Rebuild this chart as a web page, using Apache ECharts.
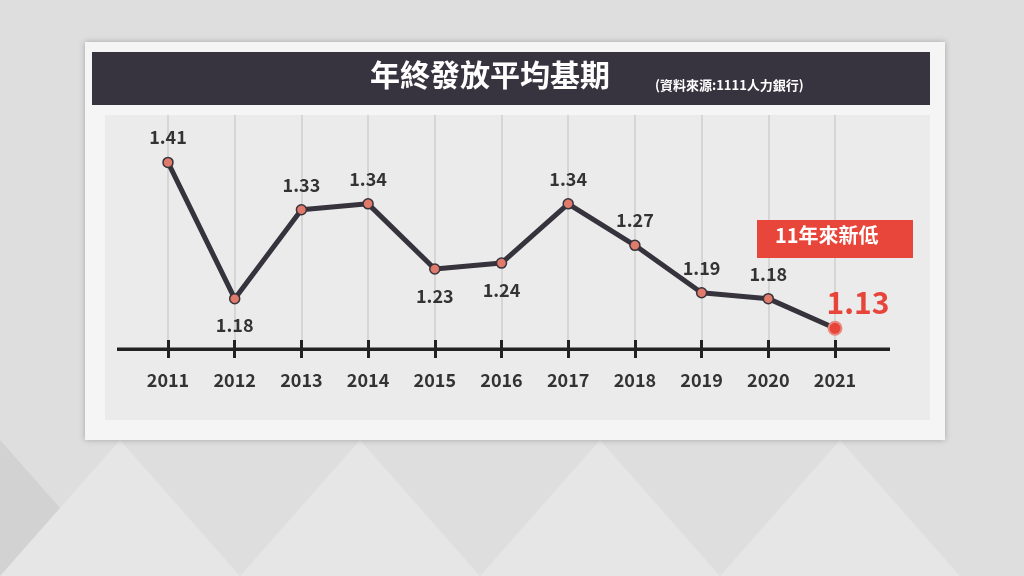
<!DOCTYPE html>
<html><head><meta charset="utf-8">
<script src="https://cdn.jsdelivr.net/npm/echarts@6/dist/echarts.min.js"></script>
<style>html,body{margin:0;padding:0;background:#dcdcdc}#c{width:1024px;height:576px}</style>
</head><body><div id="c"></div>
<script>
const years = ['2011','2012','2013','2014','2015','2016','2017','2018','2019','2020','2021'];
const values = [1.41,1.18,1.33,1.34,1.23,1.24,1.34,1.27,1.19,1.18,1.13];
const labelBelow = ['2012','2015','2016'];
const titleText = '年終發放平均基期';
const sourceText = '(資料來源:1111人力銀行)';
const badgeText = '11年來新低';

const font = '"Noto Sans CJK TC","Noto Sans",sans-serif';
const chart = echarts.init(document.getElementById('c'));
const last = values.length - 1;
const data = values.map((v,i)=>{
  const d = {value:v};
  if (i === last) {
    d.symbolSize = 13;
    d.itemStyle = {color:'#e8453a', borderColor:'#e88a80', borderWidth:2};
    d.label = {position:'right', offset:[-26,-26], fontSize:30, color:'#e8453a', fontWeight:'bold'};
  } else if (labelBelow.includes(years[i])) {
    d.label = {position:'bottom', distance:12};
  }
  return d;
});
chart.setOption({
  backgroundColor:'#dedede',
  graphic:[
    {type:'polygon',shape:{points:[[0,440],[120,576],[0,576]]},style:{fill:'#d2d2d2'}},
    {type:'polygon',shape:{points:[[120,440],[240,576],[0,576]]},style:{fill:'#e6e6e6'}},
    {type:'polygon',shape:{points:[[360,440],[480,576],[240,576]]},style:{fill:'#e6e6e6'}},
    {type:'polygon',shape:{points:[[600,440],[720,576],[480,576]]},style:{fill:'#e6e6e6'}},
    {type:'polygon',shape:{points:[[840,440],[960,576],[720,576]]},style:{fill:'#e6e6e6'}},
    {type:'rect',shape:{x:85,y:42,width:860,height:398},style:{fill:'#f5f5f5',shadowBlur:6,shadowColor:'rgba(0,0,0,0.25)'}},
    {type:'rect',shape:{x:92,y:52,width:838,height:53},style:{fill:'#38343f'}},
    {type:'text',left:370,top:60,style:{text:titleText,fill:'#fff',font:'bold 30px '+font}},
    {type:'text',left:655,top:79,style:{text:sourceText,fill:'#fff',font:'bold 13px '+font}},
    {type:'rect',shape:{x:105,y:115,width:825,height:305},style:{fill:'#ebebeb'}},
    {type:'rect',z:5,shape:{x:117,y:347.5,width:773,height:3.5},style:{fill:'#222'}},
    {type:'rect',z:5,shape:{x:757,y:220,width:156,height:38},style:{fill:'#e8463a'}},
    {type:'text',z:6,left:'center',x:835,left:775,top:225,style:{text:badgeText,fill:'#fff',font:'bold 20px '+font}}
  ],
  grid:{left:168,top:115,width:667,height:234},
  xAxis:[{type:'category',data:years,boundaryGap:false,
    axisLine:{show:false},
    axisTick:{show:true,length:9,lineStyle:{color:'#222',width:3}},
    axisLabel:{margin:22,fontSize:18,fontWeight:'bold',color:'#333',fontFamily:font},
    splitLine:{show:true,lineStyle:{color:'#d6d6d6',width:2}}},
   {type:'category',data:years,position:'bottom',boundaryGap:false,
    axisLine:{show:false},axisLabel:{show:false},
    axisTick:{show:true,inside:true,length:9,lineStyle:{color:'#222',width:3}}}],
  yAxis:{type:'value',min:1.095,max:1.49,show:false,splitLine:{show:false}},
  series:[{type:'line',data:data,symbol:'circle',symbolSize:10,
    lineStyle:{color:'#36333d',width:5},
    itemStyle:{color:'#e07a6a',borderColor:'#36333d',borderWidth:1.5},
    label:{show:true,position:'top',distance:10,fontSize:18,fontWeight:'bold',color:'#333',fontFamily:font},
    z:4}]
});
</script></body></html>
